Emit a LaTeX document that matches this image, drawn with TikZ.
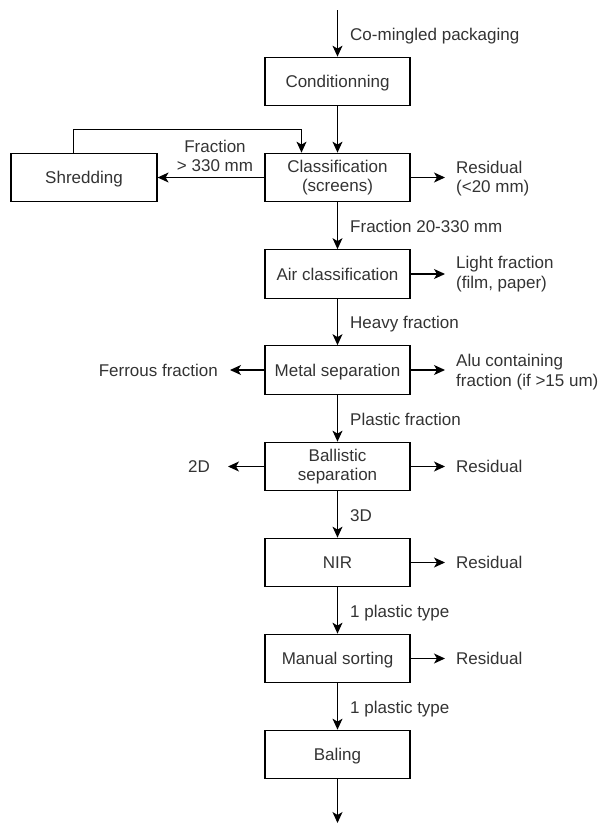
\documentclass[tikz,border=0pt]{standalone}
\usepackage{fontspec}
\setmainfont{Liberation Sans}
\usetikzlibrary{arrows.meta}
\begin{document}
\begin{tikzpicture}[x=1pt,y=-1pt,
  txt/.style={text=black!80, font=\fontsize{17}{19.5}\selectfont},
  box/.style={txt, draw=black, line width=1.2pt, minimum width=145pt, minimum height=48.5pt, inner sep=0pt, align=center},
  onebox/.style={box, text height=12.2pt, text depth=0pt},
  lbl/.style={txt, inner sep=0pt, align=left},
  flow/.style={draw=black, line width=1.2pt, -{Stealth[length=11pt,width=10pt,inset=3pt]}}]
\useasboundingbox (0,0) rectangle (602,825);
% process boxes
\node[onebox] (cond) at (337.5,81.5) {Conditionning};
\node[box] (class) at (337.5,177.5) {Classification\\(screens)};
\node[onebox, minimum width=146pt] (shred) at (84,177.5) {Shredding};
\node[onebox] (air) at (337.5,274) {Air classification};
\node[onebox] (metal) at (337.5,370) {Metal separation};
\node[box] (ball) at (337.5,466.5) {Ballistic\\separation};
\node[onebox] (nir) at (337.5,562.5) {NIR};
\node[onebox] (man) at (337.5,658.5) {Manual sorting};
\node[onebox] (bal) at (337.5,754.5) {Baling};
\coordinate (in) at (337.5,10);
\coordinate (out) at (337.5,823);
% outputs right
\node[lbl, anchor=west] (res1) at (456,178.5) {Residual\\(<20 mm)};
\node[lbl, anchor=west] (light) at (456,274) {Light fraction\\(film, paper)};
\node[lbl, anchor=west] (alu) at (456,372) {Alu containing\\fraction (if >15 um)};
\node[lbl, anchor=base west] (res2) at (456,472.5) {Residual};
\node[lbl, anchor=base west] (res3) at (456,568.5) {Residual};
\node[lbl, anchor=base west] (res4) at (456,664.5) {Residual};
% outputs left
\node[lbl, anchor=base east] (ferr) at (218,376) {Ferrous fraction};
\node[lbl, anchor=base east] (twod) at (210,472.5) {2D};
% flow labels
\node[lbl, anchor=base west] at (350,40) {Co-mingled packaging};
\node[lbl, anchor=base west] at (350,232) {Fraction 20-330 mm};
\node[lbl, anchor=base west] at (350,328.5) {Heavy fraction};
\node[lbl, anchor=base west] at (350,425) {Plastic fraction};
\node[lbl, anchor=base west] at (350,521) {3D};
\node[lbl, anchor=base west] at (350,617) {1 plastic type};
\node[lbl, anchor=base west] at (350,713) {1 plastic type};
\node[txt, inner sep=0pt, align=center] at (215,156) {Fraction\\> 330 mm};
% main flow
\draw[flow] (in) -- (cond);
\draw[flow] (cond) -- (class);
\draw[flow] (class) -- (air);
\draw[flow] (air) -- (metal);
\draw[flow] (metal) -- (ball);
\draw[flow] (ball) -- (nir);
\draw[flow] (nir) -- (man);
\draw[flow] (man) -- (bal);
\draw[flow] (bal) -- (out);
% side flows
\draw[flow] (class.west) -- (shred.east);
\draw[flow] ([xshift=-10.3pt]shred.north) -- ++(0,-23.5) -| ([xshift=-36pt]class.north);
\draw[flow, shorten >=11pt] (class.east) -- (class.east -| res1.west);
\draw[flow, shorten >=11pt] (air.east) -- (air.east -| light.west);
\draw[flow, shorten >=11pt] (metal.east) -- (metal.east -| alu.west);
\draw[flow, shorten >=11pt] (ball.east) -- (ball.east -| res2.west);
\draw[flow, shorten >=11pt] (nir.east) -- (nir.east -| res3.west);
\draw[flow, shorten >=11pt] (man.east) -- (man.east -| res4.west);
\draw[flow, shorten >=12pt] (metal.west) -- (metal.west -| ferr.east);
\draw[flow, shorten >=18pt] (ball.west) -- (ball.west -| twod.east);
\end{tikzpicture}
\end{document}
